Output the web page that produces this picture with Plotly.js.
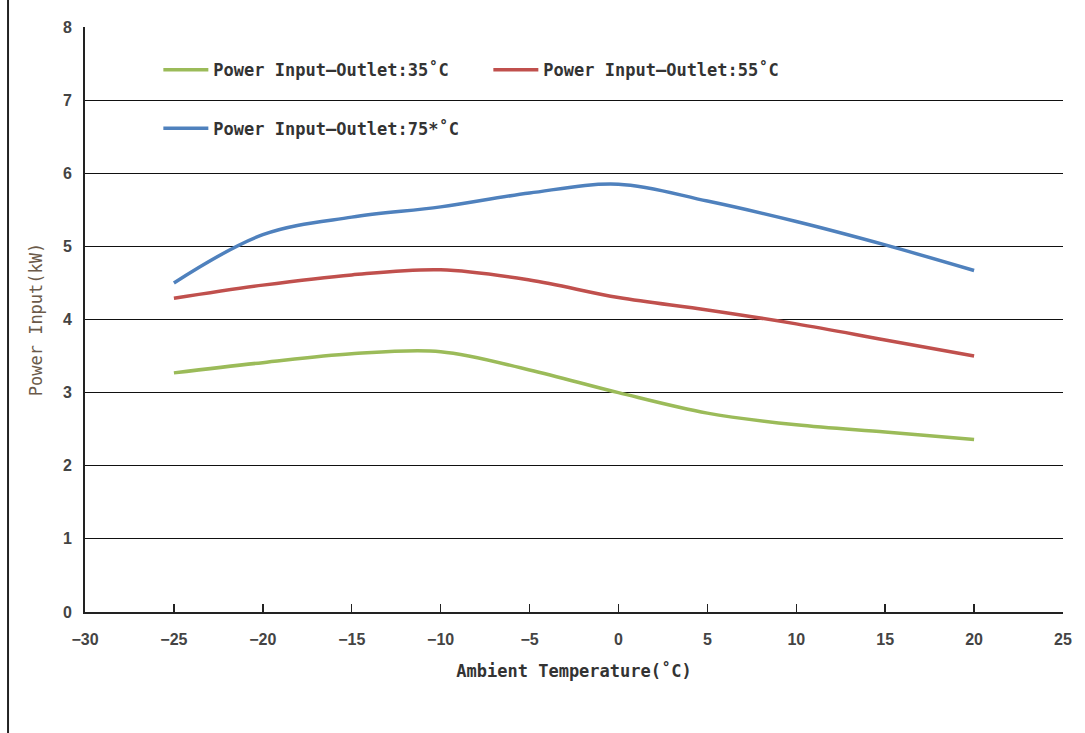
<!DOCTYPE html>
<html>
<head>
<meta charset="utf-8">
<script src="https://cdn.plot.ly/plotly-3.0.1.min.js"></script>
<style>html,body{margin:0;padding:0;background:#fff;}#chart{width:1085px;height:733px;}</style>
</head>
<body>
<div id="chart"></div>
<script>
const temps = [-25, -20, -15, -10, -5, 0, 5, 10, 15, 20];
const outlet35 = [3.27, 3.41, 3.53, 3.56, 3.31, 3.00, 2.72, 2.56, 2.46, 2.36];
const outlet55 = [4.29, 4.47, 4.61, 4.68, 4.54, 4.30, 4.13, 3.94, 3.72, 3.50];
const outlet75 = [4.50, 5.16, 5.40, 5.54, 5.73, 5.85, 5.62, 5.34, 5.02, 4.67];
const seriesNames = ['Power Input—Outlet:35\u02daC', 'Power Input—Outlet:55\u02daC', 'Power Input—Outlet:75*\u02daC'];
const xTicks = [-30, -25, -20, -15, -10, -5, 0, 5, 10, 15, 20, 25];
const xTickText = ['\u221230', '\u221225', '\u221220', '\u221215', '\u221210', '\u22125', '0', '5', '10', '15', '20', '25'];
const yTicks = [0, 1, 2, 3, 4, 5, 6, 7, 8];

const mono = '"DejaVu Sans Mono", "Liberation Mono", monospace';
const legFont = {family: mono, size: 17, color: '#333', weight: 'bold'};
const traces = [
  {x: temps, y: outlet35, name: seriesNames[0], mode: 'lines', line: {color: '#9BBB59', width: 3.5, shape: 'spline', smoothing: 1}, legend: 'legend'},
  {x: temps, y: outlet55, name: seriesNames[1], mode: 'lines', line: {color: '#C0504D', width: 3.5, shape: 'spline', smoothing: 1}, legend: 'legend'},
  {x: temps, y: outlet75, name: seriesNames[2], mode: 'lines', line: {color: '#4F81BD', width: 3.5, shape: 'spline', smoothing: 1}, legend: 'legend2'}
];

const layout = {
  width: 1085, height: 733,
  margin: {l: 85, r: 22, t: 27, b: 121},
  paper_bgcolor: '#fff', plot_bgcolor: '#fff',
  font: {family: '"Liberation Sans", Arial, sans-serif', color: '#333'},
  xaxis: {
    range: [-30, 25], tickvals: xTicks, ticktext: xTickText,
    showgrid: false, zeroline: false,
    showline: true, linecolor: '#222', linewidth: 2,
    ticks: 'inside', ticklen: 8, tickwidth: 1.5, tickcolor: '#222',
    ticklabelstandoff: 12,
    tickfont: {family: '"Liberation Sans", Arial, sans-serif', size: 16, color: '#444', weight: 'bold'},
    title: {text: 'Ambient Temperature(\u02daC)', standoff: 18, font: {family: mono, size: 17, color: '#333', weight: 'bold'}}
  },
  yaxis: {
    range: [0, 8], tickvals: yTicks,
    showgrid: true, gridcolor: '#111', gridwidth: 1.2,
    zeroline: false, showline: true, linecolor: '#222', linewidth: 2,
    ticks: '', ticklen: 0,
    ticklabelstandoff: 8,
    tickfont: {family: '"Liberation Sans", Arial, sans-serif', size: 16, color: '#444', weight: 'bold'},
    title: {text: 'Power Input(kW)', standoff: 16, font: {family: mono, size: 17, color: '#6b5a4a'}}
  },
  showlegend: true,
  legend: {
    orientation: 'h', x: 0.075, y: 0.926, xanchor: 'left', yanchor: 'middle',
    entrywidth: 270, entrywidthmode: 'pixels',
    bgcolor: 'rgba(0,0,0,0)', font: legFont, itemwidth: 45
  },
  legend2: {
    orientation: 'h', x: 0.075, y: 0.826, xanchor: 'left', yanchor: 'middle',
    bgcolor: 'rgba(0,0,0,0)', font: legFont, itemwidth: 45
  },
  shapes: [
    {type: 'line', xref: 'paper', yref: 'paper', x0: -0.0787, x1: -0.0787, y0: -0.207, y1: 1.046, line: {color: '#222', width: 2}}
  ]
};

Plotly.newPlot('chart', traces, layout, {displayModeBar: false, staticPlot: true});
</script>
</body>
</html>
